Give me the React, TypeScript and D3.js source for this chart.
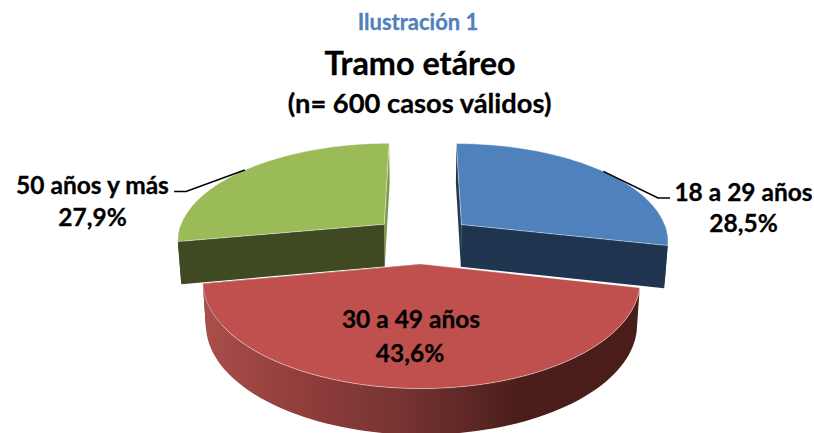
import React from "react";
import * as d3 from "d3";

const categories = ["18 a 29 años", "30 a 49 años", "50 años y más"];
const shares = [28.5, 43.6, 27.9];
const shareLabels = ["28,5%", "43,6%", "27,9%"];
const topColors = ["#4f81bd", "#c0504d", "#9bbb59"];
const wallColors = ["#1f344e", "url(#redWall)", "#3f4a23"];
const sliverColors = ["#22384f", "#4a1d1b", "#7f9a48"];

const W = 814, H = 433;
const cx = 422.5, cy = 239.2, rx = 208, ry = 97.4, persp = 0.151, explode = 0.245, depth = 42.5, taper = 0.986;

type P = [number, number];
const project = (u: number, v: number, low = false): P => {
  const s = 1 / (1 - persp * v);
  const X = rx * u * s, Y = ry * v * s;
  return low ? [cx + X * taper, cy + Y + depth * s ** 0.4] : [cx + X, cy + Y];
};
const line = d3.line<P>().x(d => d[0]).y(d => d[1]);

const arcs = d3.pie<number>().sort(null).value(d => d)(shares);

function sliceGeom(a: d3.PieArcDatum<number>) {
  const mid = (a.startAngle + a.endAngle) / 2;
  const ou = explode * Math.sin(mid), ov = -explode * Math.cos(mid);
  const at = (t: number, r = 1, low = false) =>
    project(ou + r * Math.sin(t), ov - r * Math.cos(t), low);
  const n = 80;
  const ts = d3.range(n + 1).map(i => a.startAngle + (a.endAngle - a.startAngle) * i / n);
  const rim = ts.map(t => at(t));
  const top = (line([at(0, 0), ...rim]) ?? "") + "Z";
  const quad = (t: number) =>
    (line([at(0, 0), at(t), at(t, 1, true), at(0, 0, true)]) ?? "") + "Z";
  const frontTs = ts.filter(t => Math.cos(t) < 0.02);
  const outer = frontTs.length
    ? (line([...frontTs.map(t => at(t)), ...frontTs.slice().reverse().map(t => at(t, 1, true))]) ?? "") + "Z"
    : "";
  return { top, start: quad(a.startAngle), end: quad(a.endAngle), outer, anchor: at(mid) };
}
const geoms = arcs.map(sliceGeom);

const font = "Lato, Carlito, 'Open Sans', sans-serif";

export default function App() {
  const leaderBlue: P[] = [geoms[0].anchor, [658, 198], [670, 198]];
  const leaderGreen: P[] = [geoms[2].anchor, [186, 191.5], [174, 191.5]];
  const order = [2, 0, 1];
  return (
    <svg width={W} height={H} viewBox={`0 0 ${W} ${H}`}
      style={{ position: "absolute", left: 0, top: 0, display: "block", background: "#fff" }}>
      <defs>
        <linearGradient id="redWall" gradientUnits="userSpaceOnUse" x1={204} x2={640} y1={0} y2={0}>
          <stop offset="0" stopColor="#a94f4c" />
          <stop offset="0.2" stopColor="#933f3d" />
          <stop offset="0.45" stopColor="#773432" />
          <stop offset="0.72" stopColor="#4b1e1c" />
          <stop offset="1" stopColor="#4a1d1b" />
        </linearGradient>
      </defs>
      {order.map(i => {
        const g = geoms[i];
        return (
          <g key={categories[i]}>
            <path d={i === 0 ? g.start : g.end} fill={sliverColors[i]} />
            {g.outer && <path d={g.outer} fill={wallColors[i]} />}
            {i === 0 && <path d={g.end} fill={wallColors[i]} />}
            {i === 2 && <path d={g.start} fill={wallColors[i]} />}
            <path d={g.top} fill={topColors[i]} stroke="#fff" strokeOpacity={0.55} strokeWidth={0.8} />
          </g>
        );
      })}
      <path d={line(leaderBlue) ?? ""} fill="none" stroke="#000" strokeWidth={1.6} />
      <path d={line(leaderGreen) ?? ""} fill="none" stroke="#000" strokeWidth={1.6} />
      <g fontFamily={font} fontWeight={700} textAnchor="middle" fill="#000" stroke="#000" strokeWidth={0.3}>
        <text x={418} y={29.5} fontSize={22} fill="#4f81bd" stroke="#4f81bd">Ilustración 1</text>
        <text x={420} y={74.5} fontSize={32.4}>Tramo etáreo</text>
        <text x={419.5} y={112.5} fontSize={27.3}>(n= 600 casos válidos)</text>
        <text x={743.5} y={201} fontSize={24.5}>{categories[0]}</text>
        <text x={743.5} y={232} fontSize={24.5}>{shareLabels[0]}</text>
        <text x={411} y={328} fontSize={24.5}>{categories[1]}</text>
        <text x={410} y={362} fontSize={24.5}>{shareLabels[1]}</text>
        <text x={92.5} y={194} fontSize={24.5}>{categories[2]}</text>
        <text x={92.5} y={226} fontSize={24.5}>{shareLabels[2]}</text>
      </g>
    </svg>
  );
}
